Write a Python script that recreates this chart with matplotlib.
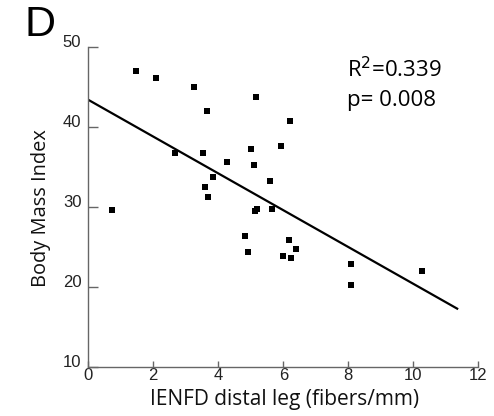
import matplotlib
matplotlib.use("Agg")
import matplotlib.pyplot as plt
import matplotlib.transforms as mtransforms
import numpy as np

# IENFD distal leg (fibers/mm) vs body mass index
ienfd = [1.46, 2.07, 3.24, 5.17, 3.66, 6.21, 2.68, 3.52, 5.01, 5.92,
         4.27, 5.11, 3.85, 3.60, 5.60, 3.69, 0.74, 5.13, 5.19, 5.66,
         4.83, 4.90, 6.17, 6.00, 6.23, 6.39, 8.07, 8.07, 10.27]
bmi = [47.0, 46.1, 45.0, 43.8, 42.0, 40.75, 36.75, 36.8, 37.3, 37.6,
       35.6, 35.2, 33.8, 32.5, 33.2, 31.2, 29.6, 29.5, 29.7, 29.8,
       26.4, 24.4, 25.9, 23.9, 23.6, 24.8, 22.9, 20.3, 22.0]

# regression line as drawn in the panel
fit_x = [0, 11.38]
fit_intercept = 43.4
fit_slope = -2.30

x_ticks = [0, 2, 4, 6, 8, 10, 12]
y_ticks = [10, 20, 30, 40, 50]

fig = plt.figure(figsize=(4.94, 4.16), dpi=100)
ax = fig.add_axes([0.1787, 0.1178, 0.7895, 0.7692])

ax.plot(ienfd, bmi, linestyle="none", marker="s", markersize=4.3,
        color="black", markeredgewidth=0)
fx = np.array(fit_x)
ax.plot(fx, fit_intercept + fit_slope * fx, color="black", lw=1.6,
        solid_capstyle="butt")

ax.set_xlim(0, 12)
ax.set_ylim(10, 50)
ax.set_xticks(x_ticks)
ax.set_yticks(y_ticks)

for side in ["top", "right"]:
    ax.spines[side].set_visible(False)
for side in ["left", "bottom"]:
    ax.spines[side].set_color("#666666")
    ax.spines[side].set_linewidth(1.0)

ax.tick_params(axis="y", direction="in", length=7, width=1.0,
               color="#666666", pad=5)
ax.tick_params(axis="x", direction="in", length=4.5, width=1.0,
               color="#666666", pad=1)
for lbl in ax.get_yticklabels():
    lbl.set_fontfamily("Liberation Sans")
    lbl.set_fontsize(12)
    lbl.set_color("#222222")
    lbl.set_transform(lbl.get_transform() +
                      mtransforms.ScaledTranslation(0, 4 / 72, fig.dpi_scale_trans))
for lbl in ax.get_xticklabels():
    lbl.set_fontfamily("Liberation Sans")
    lbl.set_fontsize(12)
    lbl.set_color("#222222")

ax.set_xlabel("IENFD distal leg (fibers/mm)", fontfamily="Open Sans",
              fontsize=15, color="#111111", va="center", ha="center")
ax.set_ylabel("Body Mass Index", fontfamily="Open Sans", fontsize=14.4,
              color="#111111", va="center", ha="center")
ax.xaxis.set_label_coords(0.502, -0.103)
ax.yaxis.set_label_coords(-0.121, 0.498)

ax.text(0.663, 0.928, "R$^2$=0.339", transform=ax.transAxes,
        fontfamily="Open Sans", fontsize=16, va="center", ha="left")
ax.text(0.663, 0.834, "p= 0.008", transform=ax.transAxes,
        fontfamily="Open Sans", fontsize=16, va="center", ha="left")

fig.text(0.05, 0.94, "D", fontfamily="Liberation Sans", fontsize=31,
         va="center", ha="left")

fig.savefig("out.png", dpi=100)
